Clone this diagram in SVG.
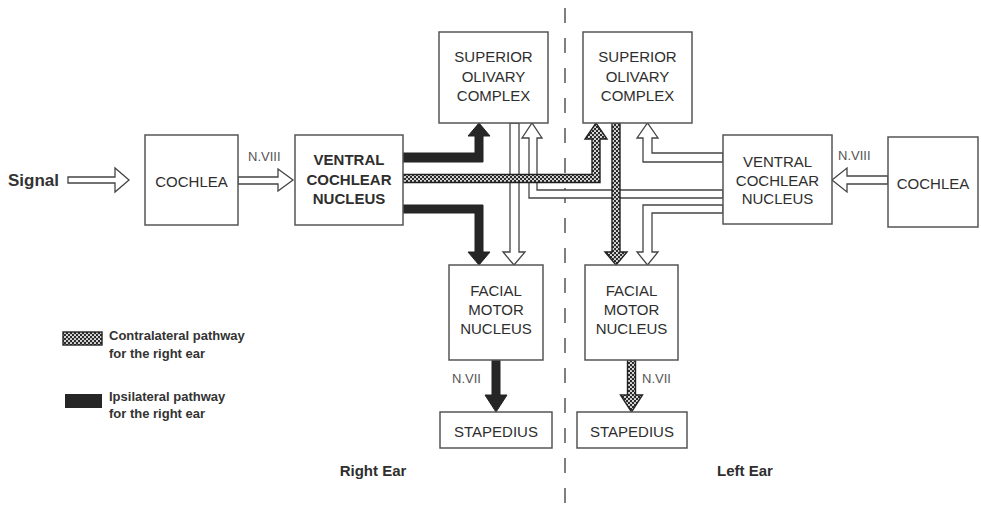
<svg xmlns="http://www.w3.org/2000/svg" width="981" height="513" viewBox="0 0 981 513">
<style>
.box{fill:#fff;stroke:#555;stroke-width:1.5}
.t{font-family:"Liberation Sans",Arial,sans-serif;font-size:15px;fill:#2e2e2e;text-anchor:middle}
.b{font-weight:bold}
.lab{font-family:"Liberation Sans",Arial,sans-serif;font-size:13px;fill:#555}
.leg{font-family:"Liberation Sans",Arial,sans-serif;font-size:13px;font-weight:bold;fill:#333}
.hol{fill:#fff;stroke:#444;stroke-width:1.3;stroke-linejoin:miter}
.ips{fill:#262626;stroke:#222;stroke-width:1}
.con{fill:url(#check);stroke:#222;stroke-width:1.4}
</style>
<defs>
<pattern id="check" width="4" height="4" patternUnits="userSpaceOnUse">
<rect width="4" height="4" fill="#2a2a2a"/>
<circle cx="1" cy="1" r="1.1" fill="#e8e8e8"/>
<circle cx="3" cy="3" r="1.1" fill="#e8e8e8"/>
</pattern>
</defs>
<rect width="981" height="513" fill="#fff"/>

<line x1="565" y1="8" x2="565" y2="505" stroke="#555" stroke-width="1.5" stroke-dasharray="15 15"/>

<g id="connectors">
<path class="hol" d="M68,177 H115 V168 L129,180 L115,192 V183 H68 Z"/>
<path class="hol" d="M238,177 H278 V169 L293,180 L278,191 V184 H238 Z"/>
<path class="hol" d="M888,176 H847 V168 L832,180 L847,192 V184 H888 Z"/>
<path class="hol" d="M723,153 H652 V138 H658 L647.5,123 L637,138 H643 V162 H723 Z"/>
<path class="hol" d="M723,205 H643 V252 H637 L647.5,265 L658,252 H652 V213 H723 Z"/>
<path class="hol" d="M723,190 H537 V138 H542 L532,123 L522,138 H529 V198 H723 Z"/>
<path class="hol" d="M510,123 V252 H503 L514,265 L525,252 H519 V123 Z"/>
<path class="ips" d="M403,153 H475 V136 H468 L479,123 L490,136 H483 V162 H403 Z"/>
<path class="ips" d="M403,205 H483 V252 H490 L479,265 L468,252 H475 V213 H403 Z"/>
<path class="ips" d="M492,360 H500 V395 H507 L496,412 L485,395 H492 Z"/>
<path class="con" d="M403,174.5 H592 V139 H585 L596,123 L607,139 H600 V182.5 H403 Z"/>
<path class="con" d="M612,123 H620 V252 H627 L616,265 L605,252 H612 Z"/>
<path class="con" d="M627.5,360 H635.5 V395 H642.5 L631.5,412 L620.5,395 H627.5 Z"/>
<text class="lab" x="248" y="161">N.VIII</text>
<text class="lab" x="838" y="160">N.VIII</text>
<text class="lab" x="452" y="383">N.VII</text>
<text class="lab" x="642" y="383">N.VII</text>
</g>

<g id="signal">
<text x="8" y="186" font-family="Liberation Sans, Arial, sans-serif" font-size="17" font-weight="bold" fill="#333">Signal</text>
</g>

<g id="cochlea-right-ear">
<rect class="box" x="145" y="135" width="93" height="90"/>
<text class="t" x="191.5" y="187">COCHLEA</text>
</g>

<g id="vcn-right-ear">
<rect class="box" x="295" y="135" width="108" height="90"/>
<text class="t b" x="349" y="165">VENTRAL</text>
<text class="t b" x="349" y="185">COCHLEAR</text>
<text class="t b" x="349" y="204">NUCLEUS</text>
</g>

<g id="soc-right-ear">
<rect class="box" x="439" y="32" width="109" height="91"/>
<text class="t" x="493.5" y="62">SUPERIOR</text>
<text class="t" x="493.5" y="82">OLIVARY</text>
<text class="t" x="493.5" y="101">COMPLEX</text>
</g>

<g id="soc-left-ear">
<rect class="box" x="583" y="32" width="109" height="91"/>
<text class="t" x="637.5" y="62">SUPERIOR</text>
<text class="t" x="637.5" y="82">OLIVARY</text>
<text class="t" x="637.5" y="101">COMPLEX</text>
</g>

<g id="vcn-left-ear">
<rect class="box" x="723" y="135" width="109" height="89"/>
<text class="t" x="777.5" y="167">VENTRAL</text>
<text class="t" x="777.5" y="186">COCHLEAR</text>
<text class="t" x="777.5" y="204">NUCLEUS</text>
</g>

<g id="cochlea-left-ear">
<rect class="box" x="888" y="137" width="90" height="90"/>
<text class="t" x="933" y="189">COCHLEA</text>
</g>

<g id="fmn-right-ear">
<rect class="box" x="449" y="265" width="94" height="95"/>
<text class="t" x="496" y="296">FACIAL</text>
<text class="t" x="496" y="315">MOTOR</text>
<text class="t" x="496" y="334">NUCLEUS</text>
</g>

<g id="fmn-left-ear">
<rect class="box" x="585" y="265" width="93" height="95"/>
<text class="t" x="631.5" y="296">FACIAL</text>
<text class="t" x="631.5" y="315">MOTOR</text>
<text class="t" x="631.5" y="334">NUCLEUS</text>
</g>

<g id="stapedius-right-ear">
<rect class="box" x="440" y="412" width="112" height="36"/>
<text class="t" x="496" y="437">STAPEDIUS</text>
</g>

<g id="stapedius-left-ear">
<rect class="box" x="577" y="412" width="110" height="36"/>
<text class="t" x="632" y="437">STAPEDIUS</text>
</g>

<g id="legend">
<rect x="63" y="332" width="39" height="13" fill="url(#check)" stroke="#222" stroke-width="1.4"/>
<text class="leg" x="109" y="340">Contralateral pathway</text>
<text class="leg" x="109" y="358">for the right ear</text>
<rect x="65" y="394" width="37" height="14" fill="#262626"/>
<text class="leg" x="109" y="401">Ipsilateral pathway</text>
<text class="leg" x="109" y="418">for the right ear</text>
</g>

<g id="ear-labels">
<text class="t b" x="373" y="476" font-size="13">Right Ear</text>
<text class="t b" x="745" y="476" font-size="13">Left Ear</text>
</g>
</svg>
